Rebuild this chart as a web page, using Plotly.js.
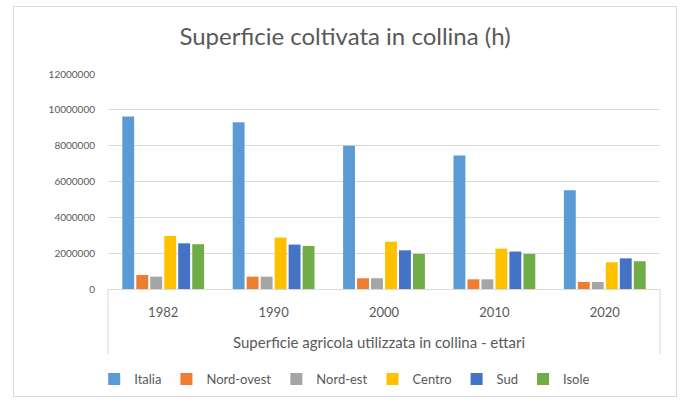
<!DOCTYPE html>
<html>
<head>
<meta charset="utf-8">
<script src="https://cdn.plot.ly/plotly-3.0.1.min.js"></script>
<style>
  html, body { margin: 0; padding: 0; background: #ffffff; overflow: hidden; }
  #frame { position: absolute; left: 13px; top: 6px; width: 664px; height: 391px; border: 1px solid #d9d9d9; box-sizing: border-box; }
  #chart { position: absolute; left: 15px; top: 8px; width: 652px; height: 407px; }
</style>
</head>
<body>
<div id="frame"></div>
<div id="chart"></div>
<script>
const years = ["1982", "1990", "2000", "2010", "2020"];
const italia     = [9630000, 9310000, 7990000, 7450000, 5510000];
const nordOvest  = [780000, 690000, 600000, 540000, 390000];
const nordEst    = [690000, 690000, 600000, 540000, 390000];
const centro     = [2960000, 2870000, 2640000, 2250000, 1490000];
const sud        = [2550000, 2480000, 2160000, 2090000, 1710000];
const isole      = [2500000, 2400000, 1960000, 1960000, 1550000];
const seriesNames = ["Italia", "Nord-ovest", "Nord-est", "Centro", "Sud", "Isole"];
const seriesValues = [italia, nordOvest, nordEst, centro, sud, isole];
const colors = ["#5B9BD5", "#ED7D31", "#A5A5A5", "#FFC000", "#4472C4", "#70AD47"];
const titleText = "Superficie coltivata in collina (h)";
const groupLabel = "Superficie agricola utilizzata in collina - ettari";

const FONT = "Lato, 'Open Sans', sans-serif";
const traces = seriesNames.map((n, i) => ({
  type: "bar", name: n, x: years, y: seriesValues[i],
  marker: { color: colors[i] }, hoverinfo: "skip"
}));

const H = 407;
const layout = {
  width: 652, height: H,
  margin: { l: 93, r: 7, t: 66, b: 126 },
  paper_bgcolor: "rgba(0,0,0,0)", plot_bgcolor: "#ffffff",
  font: { family: FONT, color: "#595959" },
  title: { text: titleText, font: { family: FONT, size: 24, color: "#595959" },
           x: (345-15)/652, xref: "container", y: 1 - 29/H, yref: "container", yanchor: "middle", xanchor: "center" },
  barmode: "group", bargap: 0.24, bargroupgap: 0.15,
  showlegend: true,
  legend: { orientation: "h", x: -0.025, xanchor: "left", y: -(379-289)/215, yanchor: "middle",
            font: { family: FONT, size: 13, color: "#595959" }, itemclick: false, traceorder: "normal" },
  xaxis: { type: "category", showgrid: false, showline: true, linecolor: "#d9d9d9", linewidth: 1,
           ticks: "", tickfont: { family: FONT, size: 13, color: "#595959" }, ticklabelstandoff: 11,
           fixedrange: true },
  yaxis: { range: [0, 12000000], dtick: 2000000, tickformat: "d", showgrid: true, gridcolor: "#d9d9d9",
           gridwidth: 1, zeroline: false, showline: false, ticks: "",
           tickfont: { family: FONT, size: 10, color: "#595959" }, ticklabelstandoff: 12, fixedrange: true },
  annotations: [{ text: groupLabel, xref: "paper", yref: "paper", x: (379-108)/552, y: -(342-289)/215,
                  xanchor: "center", yanchor: "middle", showarrow: false,
                  font: { family: FONT, size: 15, color: "#595959" } }],
  shapes: [
    { type: "line", xref: "paper", yref: "paper", x0: 0, x1: 0, y0: 0, y1: -(354-289)/215, line: { color: "#d9d9d9", width: 1 } },
    { type: "line", xref: "paper", yref: "paper", x0: 1, x1: 1, y0: 0, y1: -(354-289)/215, line: { color: "#d9d9d9", width: 1 } }
  ]
};
Plotly.newPlot("chart", traces, layout, { displayModeBar: false, staticPlot: true });
</script>
</body>
</html>
